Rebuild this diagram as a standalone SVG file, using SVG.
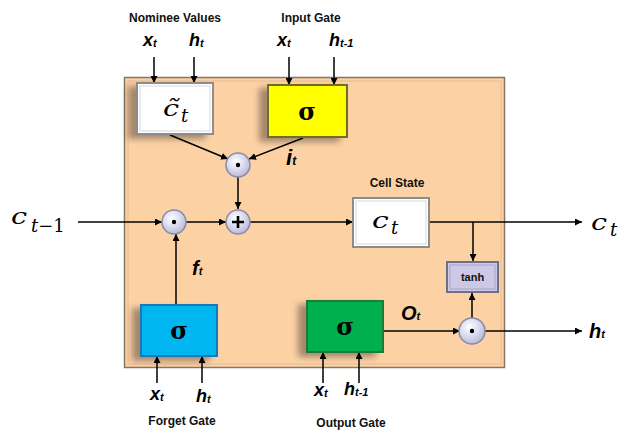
<svg xmlns="http://www.w3.org/2000/svg" width="622" height="432" viewBox="0 0 622 432">
<defs>
<marker id="ah" viewBox="0 0 10 10" refX="10" refY="5" markerWidth="7" markerHeight="7" markerUnits="userSpaceOnUse" orient="auto">
<path d="M0,0 L10,5 L0,10 z" fill="#000"/>
</marker>
<radialGradient id="cg" cx="0.4" cy="0.35" r="0.7">
<stop offset="0" stop-color="#ffffff"/>
<stop offset="0.5" stop-color="#dcdcf0"/>
<stop offset="1" stop-color="#b4b4d2"/>
</radialGradient>
<filter id="sh" x="-30%" y="-30%" width="160%" height="160%">
<feGaussianBlur in="SourceAlpha" stdDeviation="3"/>
<feOffset dx="-8" dy="4" result="b"/>
<feComponentTransfer><feFuncA type="linear" slope="0.35"/></feComponentTransfer>
<feMerge><feMergeNode/><feMergeNode in="SourceGraphic"/></feMerge>
</filter>
</defs>
<style>
.lbl{font-family:"Liberation Sans",Arial,sans-serif;font-weight:bold;font-size:12px;fill:#111;text-anchor:middle}
.var{font-family:"Liberation Sans",Arial,sans-serif;font-weight:bold;font-style:italic;font-size:18px;fill:#000}
.sub{font-size:11px}
.math{font-family:"DejaVu Serif",serif;font-style:italic;font-size:23px;fill:#000}
.msub{font-size:18px}
.sig{font-family:"DejaVu Serif",serif;font-weight:bold;font-size:24px;fill:#000;text-anchor:middle}
.arr{stroke:#000;stroke-width:1.5;fill:none;marker-end:url(#ah)}
.op{fill:url(#cg);stroke:#8a8aa8;stroke-width:1.5}
</style>
<rect width="622" height="432" fill="#fff"/>
<g id="cell">
<rect x="124.5" y="77.5" width="380" height="290" fill="#fcd1a4" stroke="#857565" stroke-width="1.5"/>
<rect x="128" y="81" width="373" height="283" fill="none" stroke="#e8bc92" stroke-width="1"/>
</g>
<g id="connectors">
<line class="arr" x1="154" y1="57" x2="154" y2="83"/>
<line class="arr" x1="194" y1="57" x2="194" y2="83"/>
<line class="arr" x1="289" y1="57" x2="289" y2="85"/>
<line class="arr" x1="334" y1="57" x2="334" y2="85"/>
<line class="arr" x1="170" y1="135" x2="228" y2="159"/>
<line class="arr" x1="303" y1="138" x2="249" y2="159"/>
<line class="arr" x1="238" y1="177" x2="238" y2="209"/>
<line class="arr" x1="78" y1="222" x2="162" y2="222"/>
<line class="arr" x1="186" y1="222" x2="226" y2="222"/>
<line class="arr" x1="250" y1="222" x2="353" y2="222"/>
<line class="arr" x1="429" y1="222" x2="582" y2="222"/>
<line class="arr" x1="473" y1="222" x2="473" y2="261"/>
<line class="arr" x1="176" y1="305" x2="176" y2="234"/>
<line class="arr" x1="383" y1="331" x2="460" y2="331"/>
<line class="arr" x1="472" y1="318" x2="472" y2="293"/>
<line class="arr" x1="485" y1="331" x2="582" y2="331"/>
<line class="arr" x1="157" y1="383" x2="157" y2="356"/>
<line class="arr" x1="202" y1="383" x2="202" y2="356"/>
<line class="arr" x1="323" y1="383" x2="323" y2="352"/>
<line class="arr" x1="359" y1="383" x2="359" y2="352"/>
</g>
<g id="nominee">
<rect x="137" y="83" width="76" height="51" fill="#fff" stroke="#8c8c8c" stroke-width="2" filter="url(#sh)"/>
<rect x="140" y="86" width="70" height="45" fill="none" stroke="#d8d8d8" stroke-width="1"/>
<text x="163" y="116" class="math" transform="translate(163 116) scale(1.25 1) translate(-163 -116)">c̃</text>
<text x="181" y="122" class="math msub">t</text>
</g>
<g id="input-gate">
<rect x="268" y="85" width="79" height="52" fill="#ffff00" stroke="#6e6e2a" stroke-width="2" filter="url(#sh)"/>
<text x="307" y="120" class="sig">σ</text>
</g>
<g id="mul-input">
<circle cx="238" cy="165" r="12" class="op"/>
<circle cx="238" cy="165" r="2.2" fill="#000"/>
</g>
<g id="add">
<circle cx="238" cy="222" r="12" class="op"/>
<path d="M232,222 H244 M238,216 V228" stroke="#000" stroke-width="2.6"/>
</g>
<g id="mul-forget">
<circle cx="174" cy="222" r="12" class="op"/>
<circle cx="174" cy="222" r="2.2" fill="#000"/>
</g>
<g id="cell-state">
<rect x="353" y="198" width="76" height="49" fill="#fff" stroke="#8c8c8c" stroke-width="2"/>
<rect x="356" y="201" width="70" height="43" fill="none" stroke="#d8d8d8" stroke-width="1"/>
<text x="372" y="228" class="math" transform="translate(372 228) scale(1.3 1) translate(-372 -228)">c</text>
<text x="391" y="234" class="math msub">t</text>
</g>
<g id="tanh">
<rect x="447" y="262" width="51" height="30" fill="#cdc8e6" stroke="#6e6e86" stroke-width="2"/>
<rect x="450" y="265" width="45" height="24" fill="none" stroke="#a8a4c4" stroke-width="1"/>
<text x="472.5" y="281" class="lbl" style="font-size:11px">tanh</text>
</g>
<g id="mul-output">
<circle cx="472" cy="331" r="13" class="op"/>
<circle cx="472" cy="331" r="2.2" fill="#000"/>
</g>
<g id="forget-gate">
<rect x="141" y="305" width="76" height="51" fill="#00b6f0" stroke="#1e78b4" stroke-width="2" filter="url(#sh)"/>
<text x="179" y="339" class="sig">σ</text>
</g>
<g id="output-gate">
<rect x="307" y="301" width="76" height="51" fill="#00b050" stroke="#1f7a3a" stroke-width="2" filter="url(#sh)"/>
<text x="345" y="335" class="sig">σ</text>
</g>
<g id="labels">
<text x="175" y="22" class="lbl">Nominee Values</text>
<text x="311" y="22" class="lbl">Input Gate</text>
<text x="397" y="187" class="lbl">Cell State</text>
<text x="182" y="425" class="lbl">Forget Gate</text>
<text x="351" y="427" class="lbl">Output Gate</text>
<text x="143" y="46" class="var">x<tspan class="sub" dy="1">t</tspan></text>
<text x="189" y="46" class="var">h<tspan class="sub" dy="1">t</tspan></text>
<text x="277" y="46" class="var">x<tspan class="sub" dy="1">t</tspan></text>
<text x="329" y="46" class="var">h<tspan class="sub" dy="1">t-1</tspan></text>
<text x="150" y="400" class="var">x<tspan class="sub" dy="1">t</tspan></text>
<text x="196" y="402" class="var">h<tspan class="sub" dy="1">t</tspan></text>
<text x="314" y="396" class="var">x<tspan class="sub" dy="1">t</tspan></text>
<text x="344" y="395" class="var">h<tspan class="sub" dy="1">t-1</tspan></text>
<text x="286" y="165" class="var" style="font-size:22px">i<tspan class="sub" style="font-size:12px">t</tspan></text>
<text x="192" y="275" class="var" style="font-size:20px">f<tspan class="sub">t</tspan></text>
<text x="401" y="320" class="var" style="font-size:20px">O<tspan class="sub">t</tspan></text>
<text x="589" y="338" class="var" style="font-size:20px">h<tspan class="sub">t</tspan></text>
<text x="11" y="224" class="math" transform="translate(11 224) scale(1.25 1) translate(-11 -224)">c</text>
<text x="31" y="232" class="math msub">t<tspan style="font-style:normal">−1</tspan></text>
<text x="591" y="230" class="math" transform="translate(591 230) scale(1.25 1) translate(-591 -230)">c</text>
<text x="610" y="236" class="math msub">t</text>
</g>
</svg>
